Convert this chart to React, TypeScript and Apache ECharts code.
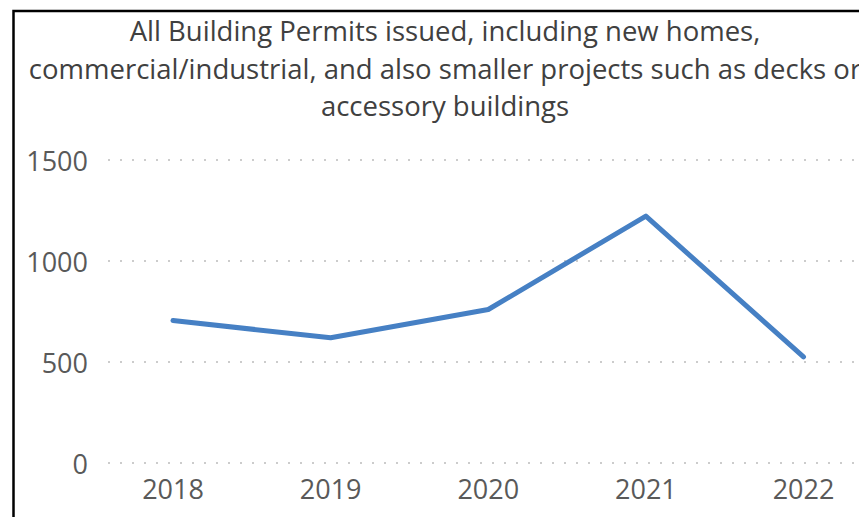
import React, { useEffect, useRef } from "react";
import * as echarts from "echarts";

const titleLines = [
  "All Building Permits issued, including new homes,",
  "commercial/industrial, and also smaller projects such as decks or",
  "accessory buildings",
];
const years = ["2018", "2019", "2020", "2021", "2022"];
const permits = [705, 620, 760, 1222, 525];
const yMin = 0;
const yMax = 1500;
const yStep = 500;

const FONT = "'Open Sans', 'Noto Sans', sans-serif";

export default function App() {
  const ref = useRef<HTMLDivElement>(null);
  useEffect(() => {
    if (!ref.current) return;
    const chart = echarts.init(ref.current, null, { renderer: "svg" });
    chart.setOption({
      animation: false,
      backgroundColor: "#ffffff",
      graphic: [
        {
          type: "rect",
          shape: { x: 13.5, y: 11, width: 900, height: 600 },
          style: { fill: "none", stroke: "#000000", lineWidth: 2.5 },
          silent: true,
        },
        {
          type: "text",
          x: 445,
          y: 12,
          style: {
            text: titleLines.join("\n"),
            fontSize: 27.5,
            fontFamily: FONT,
            fill: "#404040",
            align: "center",
            verticalAlign: "top",
            lineHeight: 37.5,
          },
        },
      ],
      grid: [
        { left: 108, top: 160, right: 0, height: 303 },
        { left: 173, top: 160, width: 630.5, height: 303 },
      ],
      xAxis: [
        { type: "category", gridIndex: 0, data: years, show: false },
        {
          type: "category",
          gridIndex: 1,
          data: years,
          boundaryGap: false,
          axisLine: { show: false },
          axisTick: { show: false },
          splitLine: { show: false },
          axisLabel: {
            color: "#595959",
            fontSize: 27,
            fontFamily: FONT,
            margin: 12,
          },
        },
      ],
      yAxis: [
        {
          type: "value",
          gridIndex: 0,
          min: yMin,
          max: yMax,
          interval: yStep,
          axisLine: { show: false },
          axisTick: { show: false },
          axisLabel: {
            color: "#595959",
            fontSize: 27,
            fontFamily: FONT,
            margin: 20,
            formatter: (v: number) => String(v),
          },
          splitLine: {
            show: true,
            lineStyle: { color: "#cccccc", width: 2.2, type: [2, 10] },
          },
        },
        {
          type: "value",
          gridIndex: 1,
          min: yMin,
          max: yMax,
          interval: yStep,
          show: false,
          splitLine: { show: false },
        },
      ],
      series: [
        {
          type: "line",
          xAxisIndex: 1,
          yAxisIndex: 1,
          data: permits,
          symbol: "none",
          lineStyle: { color: "#4680c4", width: 5, cap: "round", join: "round" },
        },
      ],
    });
    return () => chart.dispose();
  }, []);
  return (
    <div
      ref={ref}
      style={{ position: "fixed", left: 0, top: 0, width: 859, height: 517, background: "#fff" }}
    />
  );
}
